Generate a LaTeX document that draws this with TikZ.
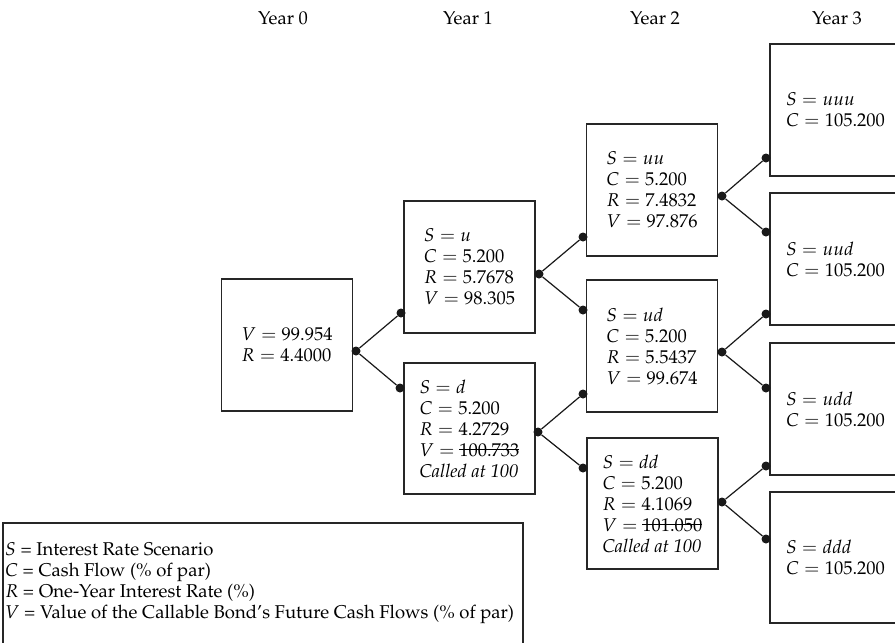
\documentclass[tikz,border=0pt]{standalone}
\usepackage[T1]{fontenc}
\usepackage{mathpazo}
\newcommand\fs{\fontsize{18.5}{21}\selectfont}
\newcommand\strk[1]{\setbox0\hbox{#1}\rlap{\rule[0.32em]{\wd0}{0.065em}}\box0}
\begin{document}
\begin{tikzpicture}[x=1pt,y=-1pt,
  box/.style={draw=black!85, line width=1.3pt, minimum width=131pt, minimum height=132pt, inner sep=0pt, align=left, font=\fs},
  dotn/.style={circle, fill=black!90, inner sep=0pt, minimum size=9pt},
  link/.style={line width=1.2pt, draw=black!90},
  yr/.style={font=\fs, inner sep=0pt}]
\useasboundingbox (0,0) rectangle (895,643);
% year labels
\node[yr] (yr0) at (283,18) {Year 0};
\node[yr] (yr1) at (468,18) {Year 1};
\node[yr] (yr2) at (655,18) {Year 2};
\node[yr] (yr3) at (837,18) {Year 3};
% boxes
\node[box] (y0) at (287,345) {$V = 99.954$\\ $R = 4.4000$};
\node[box] (u) at (469.5,267) {$S = u$\\ $C = 5.200$\\ $R = 5.7678$\\ $V = 98.305$};
\node[box, minimum height=131pt] (d) at (469.5,428.5) {$S = d$\\ $C = 5.200$\\ $R = 4.2729$\\ $V =$ \strk{100.733}\\ \textit{Called at 100}};
\node[box] (uu) at (652,190) {$S = uu$\\ $C = 5.200$\\ $R = 7.4832$\\ $V = 97.876$};
\node[box] (ud) at (652,346) {$S = ud$\\ $C = 5.200$\\ $R = 5.5437$\\ $V = 99.674$};
\node[box, minimum height=131pt] (dd) at (652.5,503.5) {$S = dd$\\ $C = 5.200$\\ $R = 4.1069$\\ $V =$ \strk{101.050}\\ \textit{Called at 100}};
\node[box] (uuu) at (835.5,110) {$S = uuu$\\ $C = 105.200$};
\node[box] (uud) at (835.5,259) {$S = uud$\\ $C = 105.200$};
\node[box] (udd) at (835.5,409) {$S = udd$\\ $C = 105.200$};
\node[box, minimum height=131pt] (ddd) at (835.5,557.5) {$S = ddd$\\ $C = 105.200$};
% dots
\node[dotn] (y0r) at (356,351) {};
\node[dotn] (ul) at (401,313) {};
\node[dotn] (dl) at (400,388) {};
\node[dotn] (ur) at (539,274) {};
\node[dotn] (uul) at (583,237) {};
\node[dotn] (udla) at (583,310) {};
\node[dotn] (dr) at (538,432) {};
\node[dotn] (udlb) at (583,394) {};
\node[dotn] (ddl) at (583,468) {};
\node[dotn] (uur) at (722,196) {};
\node[dotn] (uuul) at (766,158) {};
\node[dotn] (uudla) at (766,232) {};
\node[dotn] (udr) at (722,352) {};
\node[dotn] (uudlb) at (766,314) {};
\node[dotn] (uddla) at (766,388) {};
\node[dotn] (ddr) at (722,502) {};
\node[dotn] (uddlb) at (766,466) {};
\node[dotn] (dddl) at (766,539) {};
% connectors
\draw[link] (y0r) -- (ul);
\draw[link] (y0r) -- (dl);
\draw[link] (ur) -- (uul);
\draw[link] (ur) -- (udla);
\draw[link] (dr) -- (udlb);
\draw[link] (dr) -- (ddl);
\draw[link] (uur) -- (uuul);
\draw[link] (uur) -- (uudla);
\draw[link] (udr) -- (uudlb);
\draw[link] (udr) -- (uddla);
\draw[link] (ddr) -- (uddlb);
\draw[link] (ddr) -- (dddl);
% legend (bottom edge runs past the picture)
\node[draw=black!85, line width=1.3pt, minimum width=520pt, minimum height=137pt, inner sep=0pt] (leg) at (263,591.5) {};
\node[anchor=west, align=left, font=\fs, inner sep=0pt] (legt) at (5,583) {$S$ = Interest Rate Scenario\\ $C$ = Cash Flow (\% of par)\\ $R$ = One-Year Interest Rate (\%)\\ $V$ = Value of the Callable Bond's Future Cash Flows (\% of par)};
\end{tikzpicture}
\end{document}
